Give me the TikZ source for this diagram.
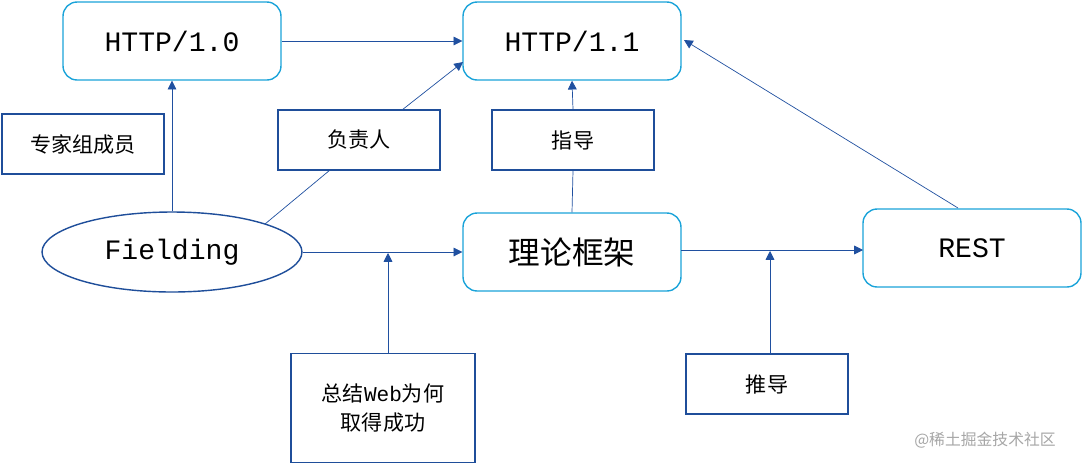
\documentclass[tikz,border=0pt]{standalone}
\usepackage{fontspec}
\setmainfont{Liberation Mono}
\newfontfamily\cjk{Noto Sans CJK SC}
\usetikzlibrary{arrows.meta, shapes.geometric}
\definecolor{boxcyan}{HTML}{1AA3D9}
\definecolor{boxblue}{HTML}{1F4E9A}
\definecolor{linkblue}{HTML}{2050A0}
\tikzset{
  bigbox/.style = {draw=boxcyan, thick, rounded corners=8pt, minimum width=4.36cm,
    minimum height=1.56cm, font=\fontsize{16}{18}\selectfont},
  notebox/.style = {draw=boxblue, thick, minimum width=3.24cm, minimum height=1.2cm,
    font=\cjk\fontsize{12}{16}\selectfont, align=center},
  link/.style = {draw=linkblue, -{Triangle[length=5pt,width=5pt]}},
  plain/.style = {draw=linkblue}
}
\begin{document}
\begin{tikzpicture}[x=0.02cm, y=-0.02cm]
\useasboundingbox (0,0) rectangle (1082,464);
\node[bigbox] (H10) at (172,41) {HTTP/1.0};
\node[bigbox] (H11) at (572,41) {HTTP/1.1};
\node[bigbox, font=\cjk\fontsize{18}{20}\selectfont] (T) at (572,252) {理论框架};
\node[bigbox] (R) at (972,248) {REST};
\node[draw=boxblue, thick, ellipse, minimum width=5.2cm, minimum height=1.6cm,
  font=\fontsize{16}{18}\selectfont] (F) at (172,252) {Fielding};
\node[notebox] (Z) at (83,144) {专家组成员};
\node[notebox] (P) at (359,140) {负责人};
\node[notebox] (G) at (573,140) {指导};
\node[notebox, minimum width=3.68cm, minimum height=2.18cm] (S) at (383,408)
  {总结{\rmfamily Web}为何\\取得成功};
\node[notebox] (D) at (767,384) {推导};
\node[text=gray!70, font=\cjk\fontsize{9}{11}\selectfont] (W) at (985,440) {@稀土掘金技术社区};
% connector ends
\coordinate (f1) at (265,224);
\coordinate (p1) at (330,170);
\coordinate (p2) at (402,110);
\coordinate (h1) at (463,62);
\coordinate (s0) at (388,354);
\coordinate (s1) at (388,253);
\coordinate (t1) at (681,250);
\coordinate (r0) at (863,250);
\coordinate (d0) at (770,354);
\coordinate (d1) at (770,251);
\coordinate (r1) at (958,208);
\coordinate (h2) at (684,40);
\draw[link] (H10.east) -- (H11.west);
\draw[link] (F.north) -- (H10.south);
\draw[plain] (f1) -- (p1);
\draw[link] (p2) -- (h1);
\draw[plain] (T.north) -- (G.south);
\draw[link] (G.north) -- (H11.south);
\draw[link] (F.east) -- (T.west);
\draw[link] (s0) -- (s1);
\draw[link] (t1) -- (r0);
\draw[link] (d0) -- (d1);
\draw[link] (r1) -- (h2);
\end{tikzpicture}
\end{document}
